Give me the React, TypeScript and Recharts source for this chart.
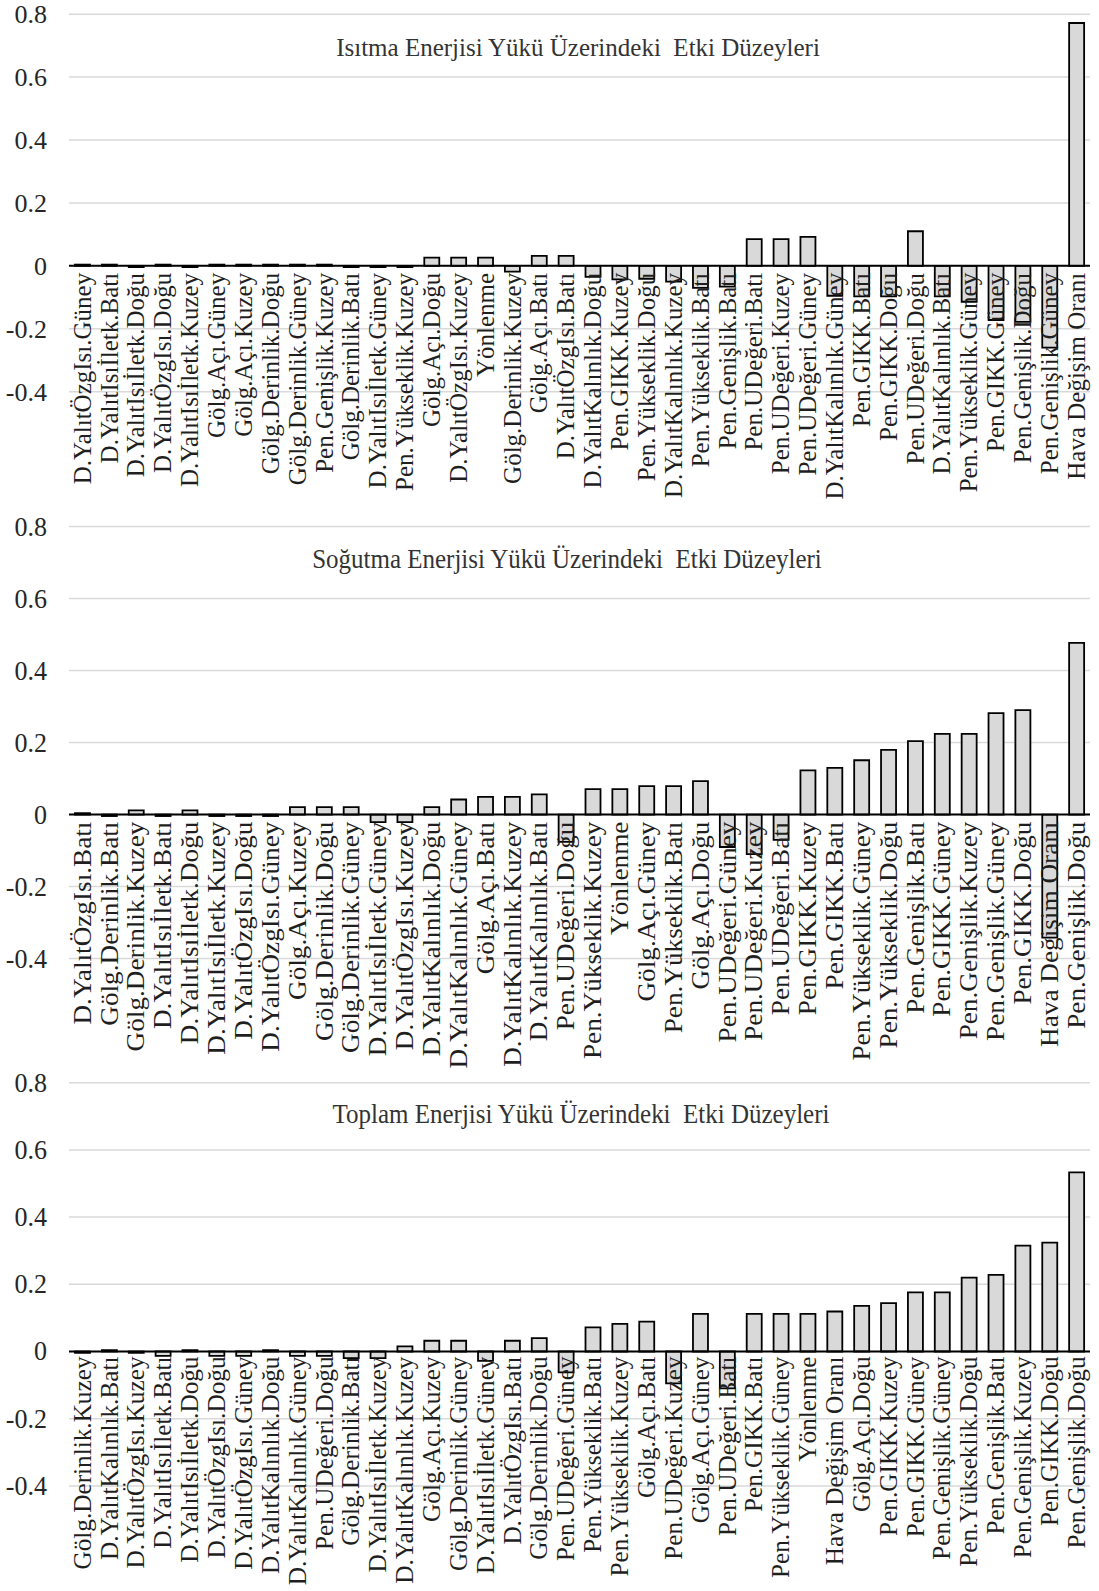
import React from 'react';
import { BarChart, Bar, XAxis, YAxis, CartesianGrid, ReferenceLine } from 'recharts';

const FONT = '"Liberation Serif", "Times New Roman", Times, serif';

const yTicks = [-0.4, -0.2, 0, 0.2, 0.4, 0.6, 0.8];

const title1 = 'Isıtma Enerjisi Yükü Üzerindeki  Etki Düzeyleri';
const title2 = 'Soğutma Enerjisi Yükü Üzerindeki  Etki Düzeyleri';
const title3 = 'Toplam Enerjisi Yükü Üzerindeki  Etki Düzeyleri';

const categories1 = [
  'D.YalıtÖzgIsı.Güney', 'D.YalıtIsıİletk.Batı', 'D.YalıtIsıİletk.Doğu', 'D.YalıtÖzgIsı.Doğu',
  'D.YalıtIsıİletk.Kuzey', 'Gölg.Açı.Güney', 'Gölg.Açı.Kuzey', 'Gölg.Derinlik.Doğu',
  'Gölg.Derinlik.Güney', 'Pen.Genişlik.Kuzey', 'Gölg.Derinlik.Batı', 'D.YalıtIsıİletk.Güney',
  'Pen.Yükseklik.Kuzey', 'Gölg.Açı.Doğu', 'D.YalıtÖzgIsı.Kuzey', 'Yönlenme',
  'Gölg.Derinlik.Kuzey', 'Gölg.Açı.Batı', 'D.YalıtÖzgIsı.Batı', 'D.YalıtKalınlık.Doğu',
  'Pen.GIKK.Kuzey', 'Pen.Yükseklik.Doğu', 'D.YalıtKalınlık.Kuzey', 'Pen.Yükseklik.Batı',
  'Pen.Genişlik.Batı', 'Pen.UDeğeri.Batı', 'Pen.UDeğeri.Kuzey', 'Pen.UDeğeri.Güney',
  'D.YalıtKalınlık.Güney', 'Pen.GIKK.Batı', 'Pen.GIKK.Doğu', 'Pen.UDeğeri.Doğu',
  'D.YalıtKalınlık.Batı', 'Pen.Yükseklik.Güney', 'Pen.GIKK.Güney', 'Pen.Genişlik.Doğu',
  'Pen.Genişlik.Güney', 'Hava Değişim Oranı',
];
const values1 = [
  0.004, 0.004, -0.004, 0.004, -0.004, 0.004, 0.004, 0.004, 0.004, 0.004, -0.004, -0.004, -0.004,
  0.026, 0.026, 0.026, -0.018, 0.032, 0.032, -0.035, -0.043, -0.041, -0.05, -0.07, -0.066,
  0.085, 0.085, 0.092, -0.095, -0.097, -0.097, 0.11, -0.097, -0.114, -0.172, -0.178, -0.26, 0.772,
];

const categories2 = [
  'D.YalıtÖzgIsı.Batı', 'Gölg.Derinlik.Batı', 'Gölg.Derinlik.Kuzey', 'D.YalıtIsıİletk.Batı',
  'D.YalıtIsıİletk.Doğu', 'D.YalıtIsıİletk.Kuzey', 'D.YalıtÖzgIsı.Doğu', 'D.YalıtÖzgIsı.Güney',
  'Gölg.Açı.Kuzey', 'Gölg.Derinlik.Doğu', 'Gölg.Derinlik.Güney', 'D.YalıtIsıİletk.Güney',
  'D.YalıtÖzgIsı.Kuzey', 'D.YalıtKalınlık.Doğu', 'D.YalıtKalınlık.Güney', 'Gölg.Açı.Batı',
  'D.YalıtKalınlık.Kuzey', 'D.YalıtKalınlık.Batı', 'Pen.UDeğeri.Doğu', 'Pen.Yükseklik.Kuzey',
  'Yönlenme', 'Gölg.Açı.Güney', 'Pen.Yükseklik.Batı', 'Gölg.Açı.Doğu',
  'Pen.UDeğeri.Güney', 'Pen.UDeğeri.Kuzey', 'Pen.UDeğeri.Batı', 'Pen.GIKK.Kuzey',
  'Pen.GIKK.Batı', 'Pen.Yükseklik.Güney', 'Pen.Yükseklik.Doğu', 'Pen.Genişlik.Batı',
  'Pen.GIKK.Güney', 'Pen.Genişlik.Kuzey', 'Pen.Genişlik.Güney', 'Pen.GIKK.Doğu',
  'Hava Değişim Oranı', 'Pen.Genişlik.Doğu',
];
const values2 = [
  0.004, -0.004, 0.012, -0.004, 0.012, -0.004, -0.004, -0.004, 0.021, 0.021, 0.021, -0.021, -0.021,
  0.021, 0.042, 0.049, 0.049, 0.056, -0.076, 0.071, 0.071, 0.079, 0.079, 0.093, -0.09, -0.11,
  -0.07, 0.123, 0.13, 0.151, 0.18, 0.204, 0.224, 0.224, 0.282, 0.29, -0.342, 0.477,
];

const categories3 = [
  'Gölg.Derinlik.Kuzey', 'D.YalıtKalınlık.Batı', 'D.YalıtÖzgIsı.Kuzey', 'D.YalıtIsıİletk.Batı',
  'D.YalıtIsıİletk.Doğu', 'D.YalıtÖzgIsı.Doğu', 'D.YalıtÖzgIsı.Güney', 'D.YalıtKalınlık.Doğu',
  'D.YalıtKalınlık.Güney', 'Pen.UDeğeri.Doğu', 'Gölg.Derinlik.Batı', 'D.YalıtIsıİletk.Kuzey',
  'D.YalıtKalınlık.Kuzey', 'Gölg.Açı.Kuzey', 'Gölg.Derinlik.Güney', 'D.YalıtIsıİletk.Güney',
  'D.YalıtÖzgIsı.Batı', 'Gölg.Derinlik.Doğu', 'Pen.UDeğeri.Güney', 'Pen.Yükseklik.Batı',
  'Pen.Yükseklik.Kuzey', 'Gölg.Açı.Batı', 'Pen.UDeğeri.Kuzey', 'Gölg.Açı.Güney',
  'Pen.UDeğeri.Batı', 'Pen.GIKK.Batı', 'Pen.Yükseklik.Güney', 'Yönlenme',
  'Hava Değişim Oranı', 'Gölg.Açı.Doğu', 'Pen.GIKK.Kuzey', 'Pen.GIKK.Güney',
  'Pen.Genişlik.Güney', 'Pen.Yükseklik.Doğu', 'Pen.Genişlik.Batı', 'Pen.Genişlik.Kuzey',
  'Pen.GIKK.Doğu', 'Pen.Genişlik.Doğu',
];
const values3 = [
  -0.004, 0.004, -0.004, -0.013, 0.004, -0.013, -0.013, 0.004, -0.013, -0.013, -0.02, -0.02,
  0.015, 0.032, 0.032, -0.028, 0.032, 0.04, -0.062, 0.072, 0.082, 0.089, -0.095, 0.112, -0.11,
  0.112, 0.112, 0.112, 0.119, 0.136, 0.144, 0.176, 0.176, 0.22, 0.228, 0.315, 0.324, 0.533,
];

type PanelProps = {
  top: number;
  height: number;
  plotTop: number;
  plotH: number;
  stretch: number;
  labelGap: number;
  cats: string[];
  vals: number[];
};

function Panel({ top, height, plotTop, plotH, stretch, labelGap, cats, vals }: PanelProps) {
  const data = cats.map((c, i) => ({ name: c, value: vals[i] }));
  const zeroY = plotTop + plotH * (0.8 / 1.2);
  const xAxisH = 1;
  const marginBottom = height - plotTop - plotH - xAxisH;
  const renderTick = (props: any) => {
    const { x, payload } = props;
    return (
      <text
        x={0}
        y={0}
        transform={`translate(${x},${zeroY + labelGap}) rotate(-90) scale(${stretch},1)`}
        textAnchor="end"
        dy="0.33em"
        fontSize={25}
        fontFamily={FONT}
        fill="#1f1f1f"
      >
        {payload.value}
      </text>
    );
  };
  const renderYTick = (props: any) => {
    const { x, y, payload } = props;
    return (
      <text
        x={0}
        y={0}
        transform={`translate(${x},${y}) scale(1,${stretch})`}
        dy="0.34em"
        textAnchor="end"
        fontSize={26}
        fontFamily={FONT}
        fill="#262626"
      >
        {String(payload.value)}
      </text>
    );
  };
  return (
    <div style={{ position: 'absolute', left: 0, top, width: 1099, height }}>
      <BarChart
        width={1099}
        height={height}
        data={data}
        margin={{ top: plotTop, right: 9, bottom: marginBottom, left: 0 }}
      >
        <CartesianGrid vertical={false} stroke="#d9d9d9" strokeWidth={1.5} />
        <XAxis
          dataKey="name"
          interval={0}
          axisLine={false}
          tickLine={false}
          height={xAxisH}
          tick={renderTick}
        />
        <YAxis
          domain={[-0.4, 0.8]}
          ticks={yTicks}
          axisLine={false}
          tickLine={false}
          tickSize={0}
          tickMargin={22}
          width={69}
          interval={0}
          tick={renderYTick}
        />
        <Bar
          dataKey="value"
          fill="#d9d9d9"
          stroke="#000"
          strokeWidth={1.8}
          barSize={15}
          isAnimationActive={false}
        />
        <ReferenceLine y={0} stroke="#000" strokeWidth={2} />
      </BarChart>
    </div>
  );
}

export default function App() {
  return (
    <div
      style={{
        position: 'absolute',
        left: 0,
        top: 0,
        width: 1099,
        height: 1591,
        background: '#fff',
        overflow: 'hidden',
      }}
    >
      <Panel top={0} height={512} plotTop={14.2} plotH={377.5} stretch={1.0} labelGap={7} cats={categories1} vals={values1} />
      <Panel top={512} height={556} plotTop={14.6} plotH={432} stretch={1.09} labelGap={7} cats={categories2} vals={values2} />
      <Panel top={1068} height={523} plotTop={14.7} plotH={403.2} stretch={1.01} labelGap={5} cats={categories3} vals={values3} />
      <svg
        width={1099}
        height={1591}
        style={{ position: 'absolute', left: 0, top: 0, pointerEvents: 'none' }}
      >
        <text x={578} y={56} textAnchor="middle" fontSize={25} fontFamily={FONT} fill="#333" style={{ whiteSpace: 'pre' }}>
          {title1}
        </text>
        <text x={0} y={0} transform="translate(567,568) scale(1,1.09)" textAnchor="middle" fontSize={25} fontFamily={FONT} fill="#333" style={{ whiteSpace: 'pre' }}>
          {title2}
        </text>
        <text x={0} y={0} transform="translate(581,1123) scale(1,1.07)" textAnchor="middle" fontSize={25} fontFamily={FONT} fill="#333" style={{ whiteSpace: 'pre' }}>
          {title3}
        </text>
      </svg>
    </div>
  );
}
